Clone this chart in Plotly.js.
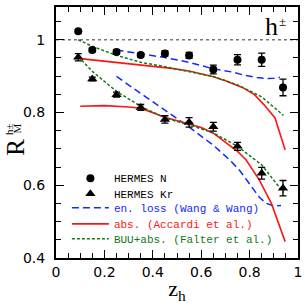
<!DOCTYPE html>
<html><head><meta charset="utf-8">
<script src="https://cdn.plot.ly/plotly-3.0.1.min.js"></script>
<style>html,body{margin:0;padding:0;background:#fff;}#chart{width:305px;height:305px;}</style>
</head><body><div id="chart"></div>
<script>
// HERMES data
const zData = [0.092, 0.15, 0.25, 0.35, 0.45, 0.55, 0.65, 0.75, 0.85, 0.938];
const rN    = [1.023, 0.972, 0.966, 0.958, 0.962, 0.957, 0.918, 0.945, 0.945, 0.869];
const errN  = [0.005, 0.005, 0.006, 0.006, 0.007, 0.008, 0.012, 0.014, 0.018, 0.023];
const rKr   = [0.952, 0.892, 0.849, 0.814, 0.781, 0.773, 0.761, 0.707, 0.633, 0.592];
const errKr = [0.010, 0.005, 0.007, 0.008, 0.010, 0.013, 0.012, 0.011, 0.016, 0.021];

// energy loss (Wang & Wang)
const zWangN = [0.25, 0.35, 0.45, 0.55, 0.65, 0.73, 0.78, 0.83, 0.87, 0.90, 0.925];
const rWangN = [0.972, 0.962, 0.951, 0.938, 0.920, 0.911, 0.902, 0.896, 0.893, 0.894, 0.897];
const zWangKr = [0.25, 0.35, 0.45, 0.55, 0.65, 0.72, 0.76, 0.80, 0.84, 0.87, 0.90, 0.93];
const rWangKr = [0.899, 0.853, 0.807, 0.760, 0.710, 0.668, 0.640, 0.605, 0.567, 0.550, 0.543, 0.544];

// absorption (Accardi et al.)
const zAccN = [0.10, 0.20, 0.30, 0.40, 0.47, 0.55, 0.60, 0.65, 0.70, 0.77, 0.82, 0.86, 0.905, 0.947];
const rAccN = [0.948, 0.941, 0.934, 0.927, 0.922, 0.914, 0.907, 0.898, 0.887, 0.869, 0.849, 0.821, 0.785, 0.697];
const zAccKr = [0.10, 0.20, 0.30, 0.35, 0.45, 0.55, 0.60, 0.65, 0.70, 0.75, 0.785, 0.84, 0.89, 0.91, 0.947];
const rAccKr = [0.817, 0.819, 0.815, 0.812, 0.787, 0.769, 0.759, 0.743, 0.719, 0.693, 0.670, 0.615, 0.550, 0.515, 0.445];

// BUU + absorption (Falter et al.)
const zBuu = [0.092, 0.15, 0.25, 0.35, 0.45, 0.55, 0.65, 0.75, 0.85, 0.94];
const rBuuN = [1.000, 0.982, 0.957, 0.938, 0.926, 0.913, 0.899, 0.876, 0.843, 0.792];
const rBuuKr = [0.954, 0.913, 0.858, 0.817, 0.785, 0.766, 0.744, 0.707, 0.656, 0.580];

const xTicks = [0, 0.2, 0.4, 0.6, 0.8, 1];
const xTickText = ['0', '0.2', '0.4', '0.6', '0.8', '1'];
const yTicks = [0.4, 0.6, 0.8, 1];
const yTickText = ['0.4', '0.6', '0.8', '1'];

const names = ['HERMES N', 'HERMES Kr', 'en. loss (Wang &amp; Wang)', 'abs. (Accardi et al.)', 'BUU+abs. (Falter et al.)'];

const BLUE = 'rgb(20,40,255)', RED = 'rgb(255,20,20)', GREEN = 'rgb(20,120,20)';
const span = (c, t) => '<span style="color:' + c + '">' + t + '</span>';

const traces = [
  {x: zWangN, y: rWangN, mode: 'lines', line: {color: BLUE, width: 1.5, dash: '7px,4px'}, name: span(BLUE, names[2]), legend: 'legend3'},
  {x: zWangKr, y: rWangKr, mode: 'lines', line: {color: BLUE, width: 1.5, dash: '7px,4px'}, showlegend: false},
  {x: zAccN, y: rAccN, mode: 'lines', line: {color: RED, width: 1.6}, name: span(RED, names[3]), legend: 'legend4'},
  {x: zAccKr, y: rAccKr, mode: 'lines', line: {color: RED, width: 1.6}, showlegend: false},
  {x: zBuu, y: rBuuN, mode: 'lines', line: {color: GREEN, width: 1.5, dash: '3px,2px'}, name: span(GREEN, names[4]), legend: 'legend5'},
  {x: zBuu, y: rBuuKr, mode: 'lines', line: {color: GREEN, width: 1.5, dash: '3px,2px'}, showlegend: false},
  {x: zData, y: rN, mode: 'markers', marker: {symbol: 'circle', size: 8, color: 'black'},
   error_y: {type: 'data', array: errN, visible: true, color: 'black', thickness: 1.3, width: 3.5}, name: names[0], legend: 'legend'},
  {x: zData, y: rKr, mode: 'markers', marker: {symbol: 'triangle-up', size: 9, color: 'black'},
   error_y: {type: 'data', array: errKr, visible: true, color: 'black', thickness: 1.3, width: 3.5}, name: names[1], legend: 'legend2'}
];

const axisCommon = {
  showgrid: false, zeroline: false, showline: true, linecolor: 'black', linewidth: 2,
  mirror: 'allticks', ticks: 'inside', ticklen: 8, tickwidth: 1.2, tickcolor: 'black',
  tickfont: {family: 'DejaVu Sans', size: 14, color: 'black'}
};

const legendBase = (y) => ({x: 0.045, y: y, xanchor: 'left', yanchor: 'middle', bgcolor: 'rgba(0,0,0,0)',
  borderwidth: 0, itemwidth: 37, font: {family: 'Liberation Mono', size: 11, color: 'black'}});

const layout = {
  width: 305, height: 305,
  margin: {l: 56, r: 7, t: 7, b: 47},
  paper_bgcolor: 'white', plot_bgcolor: 'white',
  showlegend: true,
  legend: legendBase(0.318),
  legend2: legendBase(0.256),
  legend3: legendBase(0.200),
  legend4: legendBase(0.136),
  legend5: legendBase(0.077),
  xaxis: Object.assign({}, axisCommon, {range: [0, 1], tickvals: xTicks, ticktext: xTickText,
    minor: {dtick: 0.05, ticks: 'inside', ticklen: 5, tickwidth: 1, tickcolor: 'black'},
    title: {text: 'z<sub>h</sub>', font: {family: 'Liberation Serif', size: 22, color: 'black'}, standoff: 2}}),
  yaxis: Object.assign({}, axisCommon, {range: [0.4, 1.09], tickvals: yTicks, ticktext: yTickText,
    ticklabelstandoff: 6,
    minor: {dtick: 0.05, tick0: 0.4, ticks: 'inside', ticklen: 5, tickwidth: 1, tickcolor: 'black'}}),
  shapes: [
    {type: 'line', xref: 'paper', x0: 0, x1: 1, yref: 'y', y0: 1, y1: 1,
     line: {color: 'rgb(120,120,120)', width: 1.5, dash: 'dot'}, layer: 'below'}
  ],
  annotations: [
    {xref: 'paper', yref: 'paper', x: 0.890, y: 0.922, xanchor: 'center', yanchor: 'middle', text: 'h', showarrow: false,
     font: {family: 'Liberation Serif', size: 26, color: 'black'}},
    {xref: 'paper', yref: 'paper', x: 0.936, y: 0.944, xanchor: 'center', yanchor: 'middle', text: '±', showarrow: false,
     font: {family: 'Liberation Serif', size: 13, color: 'black'}},
    {xref: 'paper', yref: 'paper', x: -0.169, y: 0.44, xanchor: 'center', yanchor: 'middle', text: 'R', textangle: -90, showarrow: false,
     font: {family: 'Liberation Serif', size: 25, color: 'black'}},
    {xref: 'paper', yref: 'paper', x: -0.194, y: 0.514, xanchor: 'center', yanchor: 'middle', text: 'h±', textangle: -90, showarrow: false,
     font: {family: 'Liberation Serif', size: 11, color: 'black'}},
    {xref: 'paper', yref: 'paper', x: -0.163, y: 0.514, xanchor: 'center', yanchor: 'middle', text: 'M', textangle: -90, showarrow: false,
     font: {family: 'Liberation Serif', size: 11, color: 'black'}}
  ]
};

Plotly.newPlot('chart', traces, layout, {staticPlot: true, displayModeBar: false});
</script>
</body></html>
